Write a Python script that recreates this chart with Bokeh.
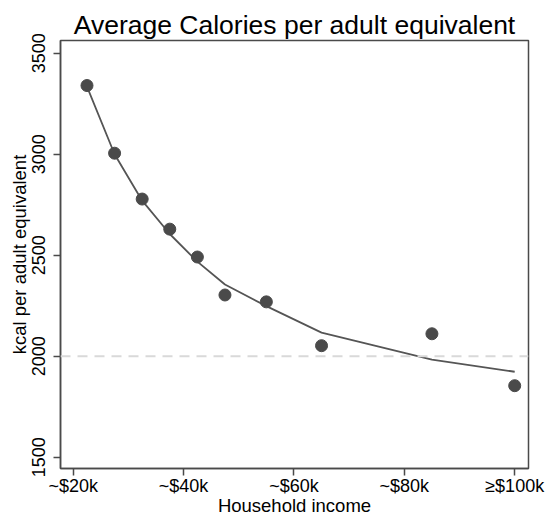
import math
from bokeh.plotting import figure
from bokeh.models import Range1d, FixedTicker, Span
from bokeh.embed import file_html
from bokeh.resources import INLINE

income = [22.5, 27.5, 32.5, 37.5, 42.5, 47.5, 55, 65, 85, 100]
kcal = [3340, 3005, 2778, 2629, 2491, 2303, 2269, 2052, 2111, 1854]
fit = [3335, 3000, 2770, 2605, 2468, 2355, 2248, 2117, 1983, 1923]
x_ticks = [20, 40, 60, 80, 100]
x_tick_labels = ["~$20k", "~$40k", "~$60k", "~$80k", "≥$100k"]
y_ticks = [1500, 2000, 2500, 3000, 3500]
reference_kcal = 2000

FONT = "Liberation Sans"
DARK = "#4a4a4a"

p = figure(width=549, height=518, output_backend="svg", toolbar_location=None,
           x_range=Range1d(17.7, 102.5), y_range=Range1d(1444, 3563),
           title="Average Calories per adult equivalent",
           min_border_left=60, min_border_right=21, min_border_top=40, min_border_bottom=49)

p.title.align = "center"
p.title.text_font = FONT
p.title.text_font_size = "26.5px"
p.title.text_font_style = "normal"
p.title.text_color = "black"
p.title.standoff = 2

p.outline_line_color = DARK
p.outline_line_width = 1.5
p.xgrid.visible = False
p.ygrid.visible = False
p.background_fill_color = "white"
p.border_fill_color = "white"

p.xaxis.ticker = FixedTicker(ticks=x_ticks)
p.xaxis.major_label_overrides = {t: l for t, l in zip(x_ticks, x_tick_labels)}
p.yaxis.ticker = FixedTicker(ticks=y_ticks)
p.yaxis.major_label_orientation = "vertical"

for ax in (p.xaxis, p.yaxis):
    ax.axis_line_color = DARK
    ax.axis_line_width = 1.5
    ax.major_tick_line_color = DARK
    ax.major_tick_line_width = 1.5
    ax.major_tick_out = 7
    ax.major_tick_in = 0
    ax.minor_tick_line_color = None
    ax.major_label_text_font = FONT
    ax.major_label_text_font_size = "18px"
    ax.major_label_text_color = "black"
    ax.axis_label_text_font = FONT
    ax.axis_label_text_font_size = "18.5px"
    ax.axis_label_text_font_style = "normal"
    ax.axis_label_text_color = "black"

p.xaxis.major_label_standoff = 0
p.xaxis.axis_label_standoff = -4
p.yaxis.major_label_standoff = 8
p.yaxis.axis_label_standoff = 0

p.xaxis.axis_label = "Household income"
p.yaxis.axis_label = "kcal per adult equivalent"

p.add_layout(Span(location=reference_kcal, dimension="width", line_color="#d9d9d9",
                  line_width=2, line_dash="10 7"))

p.line(income, fit, line_color="#555555", line_width=1.8)
p.scatter(income, kcal, size=12, fill_color=DARK, line_color=DARK)

open("out.html", "w").write(file_html(p, INLINE))
